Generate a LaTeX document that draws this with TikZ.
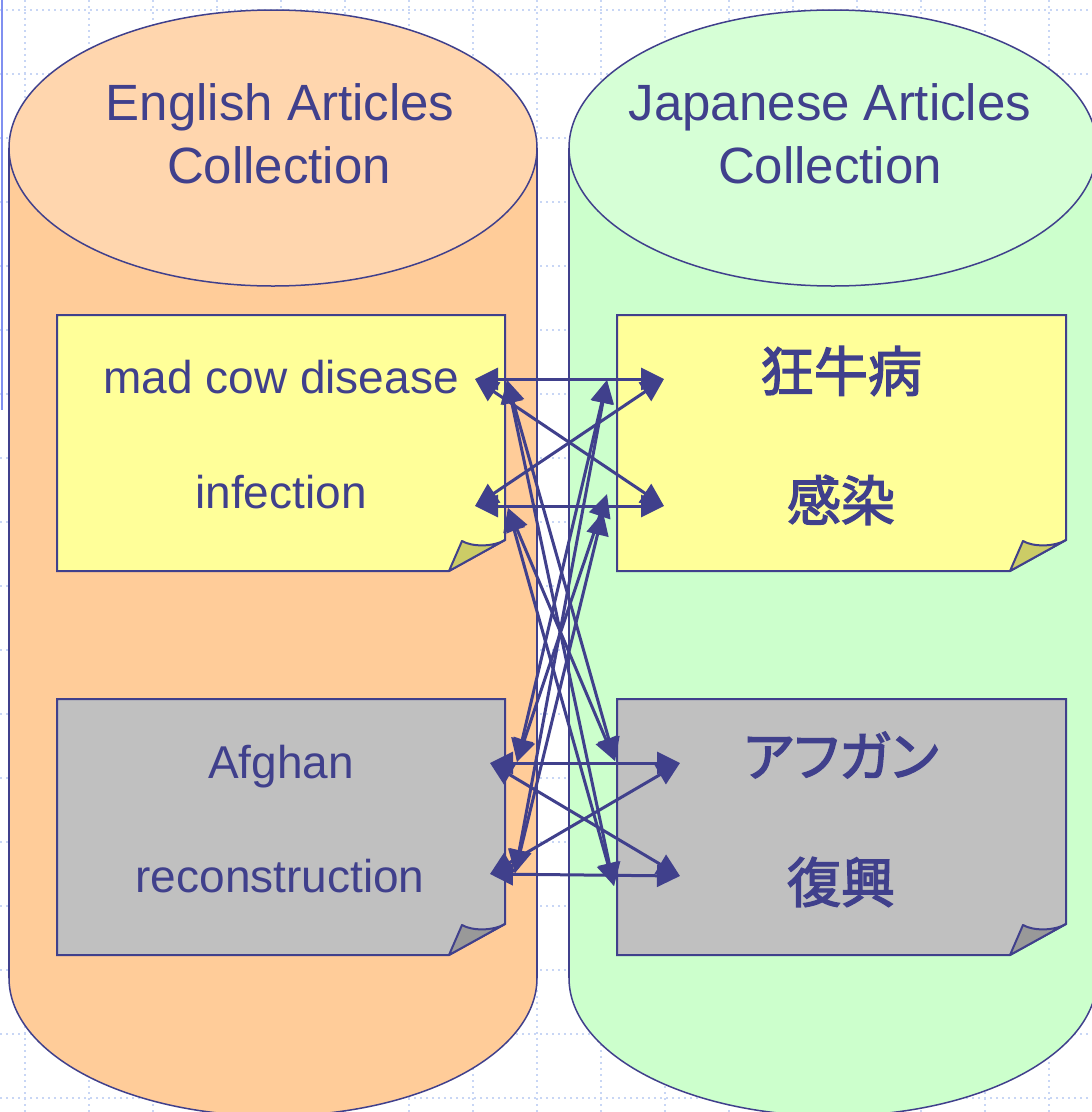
\documentclass[tikz,border=0pt]{standalone}
\usepackage{fontspec}
\setmainfont{Liberation Sans}
\newfontfamily\jfont{Noto Sans CJK JP}
\newcommand\jemb[1]{\special{pdf:literal direct 2 Tr 1.3 w}#1\special{pdf:literal direct 0 Tr}}
\usetikzlibrary{arrows.meta}
\definecolor{navy}{RGB}{64,64,140}
\definecolor{gridc}{RGB}{200,214,245}
\definecolor{leftline}{RGB}{128,144,240}
\definecolor{peach}{RGB}{255,204,153}
\definecolor{peachtop}{RGB}{255,214,174}
\definecolor{mint}{RGB}{204,255,204}
\definecolor{minttop}{RGB}{214,255,214}
\definecolor{notey}{RGB}{255,255,153}
\definecolor{flapy}{RGB}{204,204,102}
\definecolor{noteg}{RGB}{192,192,192}
\definecolor{flapg}{RGB}{153,153,153}
\tikzset{
  gridline/.style={gridc, line width=2pt, dash pattern=on 2pt off 4pt},
  cylline/.style={navy, line width=1.5pt},
  notebox/.style={draw=navy, line width=2pt, line join=miter},
  title/.style={text=navy, font=\fontsize{51}{60}\selectfont, inner sep=0pt, anchor=base},
  word/.style={text=navy, font=\fontsize{46}{54}\selectfont, inner sep=0pt, anchor=base},
  jword/.style={text=navy, font=\jfont\fontsize{54}{60}\selectfont, inner sep=0pt, anchor=center},
  conn/.style={navy, line width=3pt, {Triangle[length=23pt,width=22pt]}-{Triangle[length=23pt,width=22pt]}}
}
\begin{document}
\begin{tikzpicture}[x=1pt,y=-1pt]
\useasboundingbox (0,0) rectangle (1092,1112);
\clip (0,0) rectangle (1092,1112);
% background grid
\foreach \x in {25,89,...,1090} \draw[gridline] (\x,0) -- (\x,1112);
\foreach \y in {10,74,...,1110} \draw[gridline] (0,\y) -- (1092,\y);
\draw[leftline, line width=2pt] (2,0) -- (2,410);
% left cylinder
\draw[cylline, fill=peach] (273,978) ellipse [x radius=264, y radius=138];
\fill[peach] (9,148) rectangle (537,978);
\draw[cylline] (9,148) -- (9,978) (537,148) -- (537,978);
\draw[cylline, fill=peachtop] (273,148) ellipse [x radius=264, y radius=138];
% right cylinder
\draw[cylline, fill=mint] (833,978) ellipse [x radius=264, y radius=138];
\fill[mint] (569,148) rectangle (1097,978);
\draw[cylline] (569,148) -- (569,978) (1097,148) -- (1097,978);
\draw[cylline, fill=minttop] (833,148) ellipse [x radius=264, y radius=138];
% titles
\node[title] (t1) at (280,120) {English Articles};
\node[title] (t2) at (279,183) {Collection};
\node[title] (t3) at (830,120) {Japanese Articles};
\node[title] (t4) at (830,183) {Collection};
% notes
\foreach \xa/\ya/\xb/\yb/\fc/\flc in {57/315/505/571/notey/flapy, 617/315/1066/571/notey/flapy, 57/699/505/955/noteg/flapg, 617/699/1066/955/noteg/flapg}{
  \draw[notebox, fill=\fc] (\xa,\ya) -- (\xb,\ya) -- (\xb,\yb-31) -- (\xb-56,\yb) -- (\xa,\yb) -- cycle;
  \draw[notebox, fill=\flc, line join=round] (\xb-56,\yb) -- (\xb-43,\yb-30) .. controls (\xb-33,\yb-24) and (\xb-12,\yb-24) .. (\xb,\yb-31) -- cycle;
}
% words
\node[word] (e1) at (281,393) {mad cow disease};
\node[word] (e2) at (281,508) {infection};
\node[word] (e3) at (281,778) {Afghan};
\node[word] (e4) at (280,892) {reconstruction};
\node[jword] (j1) at (841,371) {\jemb{狂牛病}};
\node[jword] (j2) at (841,500) {\jemb{感染}};
\node[jword, font=\jfont\addfontfeatures{RawFeature=+palt}\fontsize{54}{60}\selectfont] (j3) at (841,755) {\jemb{アフガン}};
\node[jword] (j4) at (841,882) {\jemb{復興}};
% connector end points
\coordinate (mcL) at (475,379);
\coordinate (inL) at (475,506);
\coordinate (jmR) at (664,379);
\coordinate (jiR) at (664,506);
\coordinate (afL) at (490,763);
\coordinate (reL) at (490,874);
\coordinate (jaR) at (680,763);
\coordinate (jfR) at (680,876);
\coordinate (mcI) at (507,380);
\coordinate (inI) at (508,508);
\coordinate (jmI) at (607,380);
\coordinate (jiA) at (607,494);
\coordinate (jiB) at (603,512);
\coordinate (afI) at (517,762);
\coordinate (reI) at (515,873);
\coordinate (jaI) at (615,761);
\coordinate (jfI) at (614,886);
% connectors
\draw[conn] (mcL) -- (jmR);
\draw[conn] (inL) -- (jiR);
\draw[conn] (mcL) -- (jiR);
\draw[conn] (inL) -- (jmR);
\draw[conn] (afL) -- (jaR);
\draw[conn] (reL) -- (jfR);
\draw[conn] (afL) -- (jfR);
\draw[conn] (reL) -- (jaR);
\draw[conn] (mcI) -- (jaI);
\draw[conn] (mcI) -- (jfI);
\draw[conn] (inI) -- (jaI);
\draw[conn] (inI) -- (jfI);
\draw[conn] (afI) -- (jmI);
\draw[conn] (reI) -- (jmI);
\draw[conn] (afI) -- (jiA);
\draw[conn] (reI) -- (jiB);
\end{tikzpicture}
\end{document}
